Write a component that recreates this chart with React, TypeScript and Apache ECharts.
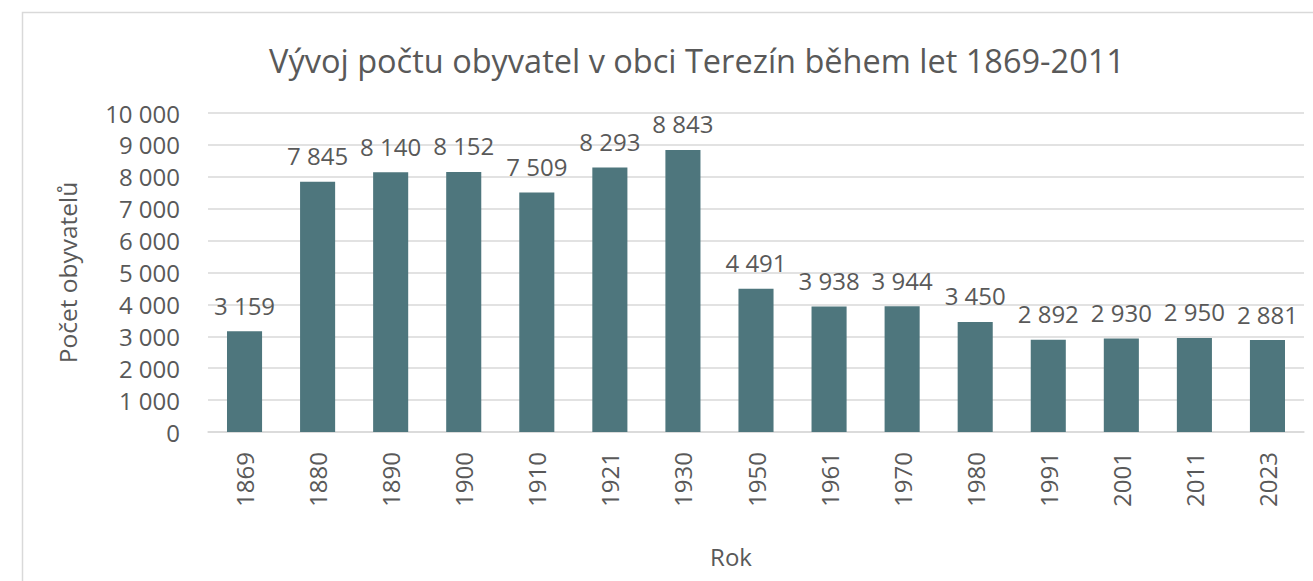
import React, { useEffect, useRef } from "react";
import * as echarts from "echarts";

const years = ["1869", "1880", "1890", "1900", "1910", "1921", "1930", "1950", "1961", "1970", "1980", "1991", "2001", "2011", "2023"];
const population = [3159, 7845, 8140, 8152, 7509, 8293, 8843, 4491, 3938, 3944, 3450, 2892, 2930, 2950, 2881];
const yTicks = { min: 0, max: 10000, interval: 1000 };

const fmt = (v: number) => String(v).replace(/\B(?=(\d{3})+(?!\d))/g, " ");

export default function App() {
  const ref = useRef<HTMLDivElement>(null);
  useEffect(() => {
    document.body.style.margin = "0";
    const chart = echarts.init(ref.current!, null, { renderer: "svg" });
    const font = "'Open Sans', 'Noto Sans', sans-serif";
    chart.setOption({
      animation: false,
      backgroundColor: "#ffffff",
      textStyle: { fontFamily: font },
      title: {
        text: "Vývoj počtu obyvatel v obci Terezín během let 1869-2011",
        left: 692,
        top: 39,
        textAlign: "center",
        textStyle: { fontSize: 32.5, fontWeight: "normal", color: "#595959", fontFamily: font },
      },
      graphic: [
        {
          type: "rect",
          shape: { x: 22.5, y: 12.5, width: 1400, height: 700 },
          style: { fill: "none", stroke: "#d9d9d9", lineWidth: 1.5 },
          silent: true,
          z: -1,
        },
      ],
      grid: { left: 208, right: 9, top: 113, bottom: 149, containLabel: false },
      xAxis: {
        type: "category",
        data: years,
        name: "Rok",
        nameLocation: "middle",
        nameGap: 112,
        nameTextStyle: { fontSize: 24, color: "#595959", padding: [0, 50, 0, 0] },
        axisTick: { show: false },
        axisLine: { lineStyle: { color: "#d9d9d9", width: 1.5 } },
        axisLabel: { rotate: 90, fontSize: 24, color: "#595959", margin: 20 },
      },
      yAxis: {
        type: "value",
        min: yTicks.min,
        max: yTicks.max,
        interval: yTicks.interval,
        name: "Počet obyvatelů",
        nameLocation: "middle",
        nameGap: 128,
        nameTextStyle: { fontSize: 24.5, color: "#595959" },
        axisLine: { show: false },
        axisTick: { show: false },
        splitLine: { lineStyle: { color: "#d9d9d9", width: 1.5 } },
        axisLabel: { fontSize: 24, color: "#595959", margin: 28, formatter: (v: number) => fmt(v) },
      },
      series: [
        {
          type: "bar",
          data: population,
          barCategoryGap: "52%",
          itemStyle: { color: "#4e767d" },
          label: {
            show: true,
            position: "top",
            distance: 14,
            fontSize: 24,
            color: "#595959",
            formatter: (p: any) => fmt(p.value),
          },
        },
      ],
    });
    return () => chart.dispose();
  }, []);
  return <div ref={ref} style={{ width: 1313, height: 581 }} />;
}
